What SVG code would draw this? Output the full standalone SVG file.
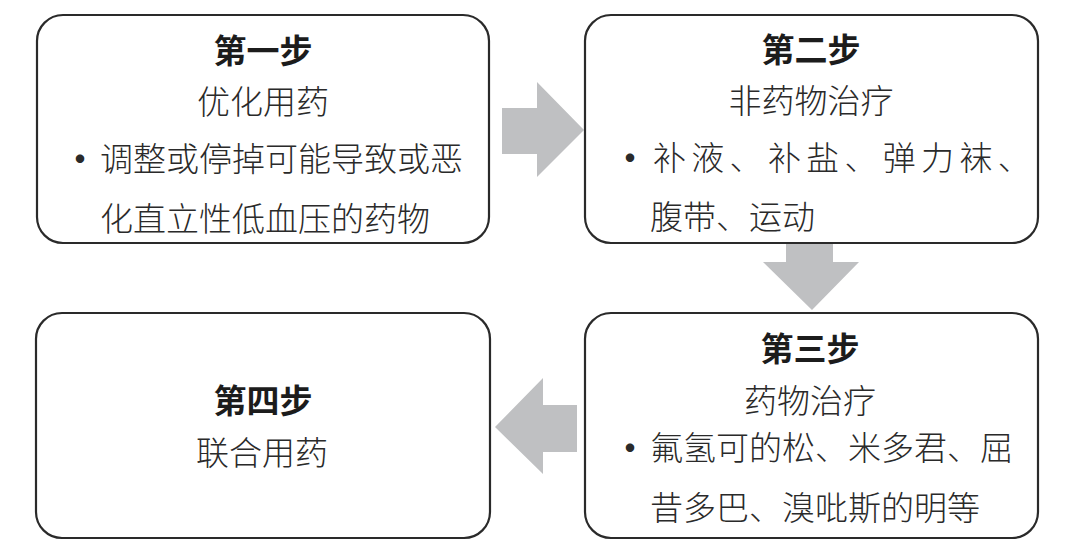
<svg xmlns="http://www.w3.org/2000/svg" width="1080" height="559" viewBox="0 0 1080 559">
<style>
.box{fill:#fff;stroke:#2a2a2a;stroke-width:2.2}
.arr{fill:#bfc0c2;stroke:none}
.t{font-family:"Noto Sans CJK SC","Noto Sans",sans-serif;font-size:33px;font-weight:700;fill:#1c1c1c;text-anchor:middle}
.b{font-family:"Noto Sans CJK SC","Noto Sans",sans-serif;font-size:33px;font-weight:200;fill:#2a2a2a}
.c{text-anchor:middle}
.d{font-weight:700}
</style>
<rect width="1080" height="559" fill="#fff"/>
<g id="connectors">
<polygon class="arr" points="502,108 537,108 537,82 584,130 537,177 537,154 502,154"/>
<polygon class="arr" points="786,243 833,243 833,262 859,262 812,310 763,262 786,262"/>
<polygon class="arr" points="577,405 543,405 543,378 495,427 543,474 543,452 577,452"/>
</g>
<g id="step1">
<rect class="box" x="37" y="15" width="452" height="228" rx="26" ry="26"/>
<text class="t" x="263" y="63">第一步</text>
<text class="b c" x="263" y="114">优化用药</text>
<text class="b" y="171"><tspan class="d" x="63.5">・</tspan><tspan x="100">调整或停掉可能导致或恶</tspan></text>
<text class="b" x="100" y="231">化直立性低血压的药物</text>
</g>
<g id="step2">
<rect class="box" x="585" y="15" width="453" height="228" rx="26" ry="26"/>
<text class="t" x="811" y="62">第二步</text>
<text class="b c" x="811" y="113">非药物治疗</text>
<text class="b" y="170"><tspan class="d" x="613.5">・</tspan><tspan x="653" letter-spacing="5.3">补液、补盐、弹力袜、</tspan></text>
<text class="b" x="650" y="229">腹带、运动</text>
</g>
<g id="step3">
<rect class="box" x="585" y="313" width="453" height="225" rx="26" ry="26"/>
<text class="t" x="810" y="361">第三步</text>
<text class="b c" x="810" y="413">药物治疗</text>
<text class="b" y="460"><tspan class="d" x="613.5">・</tspan><tspan x="650">氟氢可的松、米多君、屈</tspan></text>
<text class="b" x="650" y="520">昔多巴、溴吡斯的明等</text>
</g>
<g id="step4">
<rect class="box" x="36" y="313" width="454" height="225" rx="26" ry="26"/>
<text class="t" x="263" y="413">第四步</text>
<text class="b c" x="262" y="465">联合用药</text>
</g>
</svg>
